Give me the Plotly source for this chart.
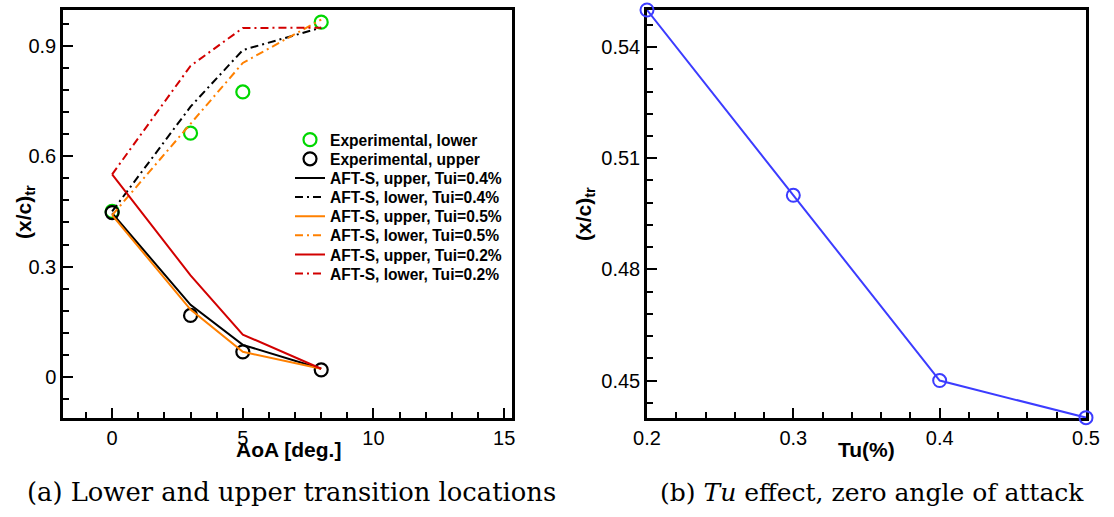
import plotly.graph_objects as go

# ---------------- data ----------------
aoa = [0, 3, 5, 8]
exp_lower = [0.45, 0.663, 0.775, 0.965]
exp_upper = [0.447, 0.167, 0.068, 0.019]
aft_upper_04 = [0.445, 0.196, 0.087, 0.022]
aft_lower_04 = [0.45, 0.735, 0.889, 0.95]
aft_upper_05 = [0.44, 0.183, 0.068, 0.022]
aft_lower_05 = [0.44, 0.69, 0.854, 0.972]
aft_upper_02 = [0.551, 0.276, 0.115, 0.022]
aft_lower_02 = [0.551, 0.846, 0.949, 0.95]

tu = [0.2, 0.3, 0.4, 0.5]
xc_tu = [0.55, 0.50, 0.45, 0.44]

# tick labels
y1_tickvals = [0, 0.3, 0.6, 0.9]
y1_ticktext = ["0", "0.3", "0.6", "0.9"]
x1_tickvals = [0, 5, 10, 15]
x1_ticktext = ["0", "5", "10", "15"]
x2_tickvals = [0.2, 0.3, 0.4, 0.5]
x2_ticktext = ["0.2", "0.3", "0.4", "0.5"]
y2_tickvals = [0.45, 0.48, 0.51, 0.54]
y2_ticktext = ["0.45", "0.48", "0.51", "0.54"]

GREEN = "rgb(0,215,0)"
BLACK = "black"
ORANGE = "rgb(255,128,0)"
RED = "rgb(210,0,0)"
BLUE = "rgb(60,60,255)"
DASHDOT = "8px,4px,2px,4px"

fig = go.Figure()
legend_names = []

def lg():
    legend_names.append("legend" if not legend_names else "legend%d" % (len(legend_names) + 1))
    return legend_names[-1]

fig.add_trace(go.Scatter(x=aoa, y=exp_lower, mode="markers", name="Experimental, lower",
                         marker=dict(symbol="circle-open", size=13, color=GREEN, line=dict(width=2.2)),
                         xaxis="x", yaxis="y", cliponaxis=False, legend=lg()))
fig.add_trace(go.Scatter(x=aoa, y=exp_upper, mode="markers", name="Experimental, upper",
                         marker=dict(symbol="circle-open", size=13, color=BLACK, line=dict(width=2.2)),
                         xaxis="x", yaxis="y", cliponaxis=False, legend=lg()))

def line(y, name, color, dash):
    fig.add_trace(go.Scatter(x=aoa, y=y, mode="lines", name=name,
                             line=dict(color=color, width=2, dash=dash),
                             xaxis="x", yaxis="y", cliponaxis=False, legend=lg()))

line(aft_upper_04, "AFT-S, upper, Tui=0.4%", BLACK, "solid")
line(aft_lower_04, "AFT-S, lower, Tui=0.4%", BLACK, DASHDOT)
line(aft_upper_05, "AFT-S, upper, Tui=0.5%", ORANGE, "solid")
line(aft_lower_05, "AFT-S, lower, Tui=0.5%", ORANGE, DASHDOT)
line(aft_upper_02, "AFT-S, upper, Tui=0.2%", RED, "solid")
line(aft_lower_02, "AFT-S, lower, Tui=0.2%", RED, DASHDOT)

fig.add_trace(go.Scatter(x=tu, y=xc_tu, mode="lines+markers", showlegend=False,
                         line=dict(color=BLUE, width=2),
                         marker=dict(symbol="circle-open", size=13, color=BLUE, line=dict(width=2)),
                         xaxis="x2", yaxis="y2", cliponaxis=False))

TICKFONT = dict(family="Liberation Sans, Arial, sans-serif", size=20, color="black")
axis_common = dict(showgrid=False, zeroline=False, showline=True, linecolor="black",
                   linewidth=2.5, mirror=True, ticks="inside", ticklen=10, tickwidth=2,
                   tickcolor="black", tickfont=TICKFONT, automargin=False, tickmode="array",
                   layer="below traces")
minor_common = dict(ticks="inside", ticklen=6, tickwidth=1.5, tickcolor="black")

fig.update_layout(
    width=1114, height=517,
    margin=dict(l=0, r=0, t=0, b=0),
    paper_bgcolor="white", plot_bgcolor="white",
    xaxis=dict(domain=[63/1114, 512/1114], range=[-1.88, 15.3],
               tickvals=x1_tickvals, ticktext=x1_ticktext,
               minor=dict(dtick=1, tick0=0, **minor_common),
               anchor="y", **axis_common),
    yaxis=dict(domain=[1-418/517, 1-10/517], range=[-0.112, 0.998],
               tickvals=y1_tickvals, ticktext=y1_ticktext,
               minor=dict(dtick=0.06, tick0=0, **minor_common),
               anchor="x", **axis_common),
    xaxis2=dict(domain=[647/1114, 1086/1114], range=[0.2, 0.5],
                tickvals=x2_tickvals, ticktext=x2_ticktext,
                minor=dict(dtick=0.02, tick0=0.2, **minor_common),
                anchor="y2", **axis_common),
    yaxis2=dict(domain=[1-418/517, 1-10/517], range=[0.4399, 0.55],
                tickvals=y2_tickvals, ticktext=y2_ticktext,
                minor=dict(dtick=0.006, tick0=0.45, **minor_common),
                anchor="x2", **axis_common),
    showlegend=True,
)

LEG_FONT = dict(family="Liberation Sans, Arial, sans-serif", size=15.6, color="black", weight="bold")
for i, name in enumerate(legend_names):
    yc = 140 + i * 19.14
    fig.update_layout({name: dict(x=290 / 1114, y=1 - yc / 517,
                                  xanchor="left", yanchor="middle",
                                  bgcolor="rgba(0,0,0,0)", borderwidth=0,
                                  font=LEG_FONT, itemwidth=30)})

ann_font = dict(family="Liberation Sans, Arial, sans-serif", size=21, color="black")
fig.add_annotation(text="<b>AoA [deg.]</b>", x=289/1114, y=1-449/517, xref="paper", yref="paper",
                   showarrow=False, font=ann_font, xanchor="center", yanchor="middle")
fig.add_annotation(text="<b>Tu(%)</b>", x=866/1114, y=1-449/517, xref="paper", yref="paper",
                   showarrow=False, font=ann_font, xanchor="center", yanchor="middle")
fig.add_annotation(text="<b>(x/c)<sub>tr</sub></b>", x=25/1114, y=1-212/517, xref="paper", yref="paper",
                   showarrow=False, font=ann_font, textangle=-90, xanchor="center", yanchor="middle")
fig.add_annotation(text="<b>(x/c)<sub>tr</sub></b>", x=585/1114, y=1-214/517, xref="paper", yref="paper",
                   showarrow=False, font=ann_font, textangle=-90, xanchor="center", yanchor="middle")
fig.add_annotation(text="(a) Lower and upper transition locations", x=291/1114, y=1-492/517,
                   xref="paper", yref="paper", showarrow=False,
                   font=dict(family="DejaVu Serif, Liberation Serif, serif", size=25.8, color="black"),
                   xanchor="center", yanchor="middle")
fig.add_annotation(text="(b) <i>Tu</i> effect, zero angle of attack", x=872/1114, y=1-492/517,
                   xref="paper", yref="paper", showarrow=False,
                   font=dict(family="DejaVu Serif, Liberation Serif, serif", size=25, color="black"),
                   xanchor="center", yanchor="middle")

fig.write_html("out.html")
